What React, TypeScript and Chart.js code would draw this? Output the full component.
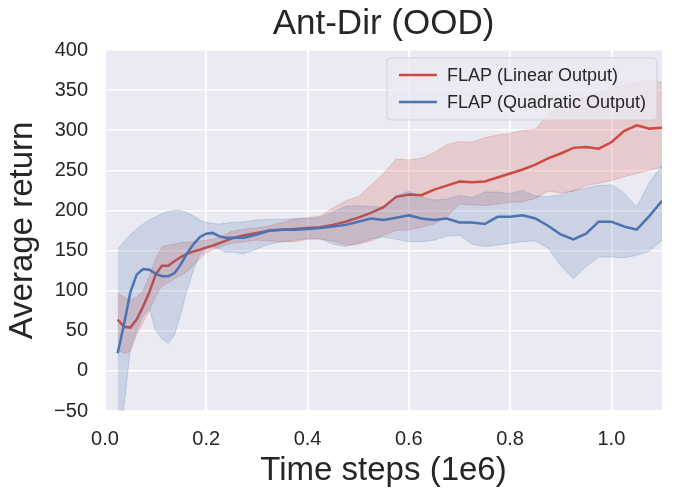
import React, { useEffect, useRef } from "react";
import { Chart, registerables } from "chart.js";

Chart.register(...registerables);

const FONT = "'Liberation Sans', Arial, sans-serif";
const TEXT = "#262626";
const RED = "#d0493f";
const BLUE = "#4c72b0";

// time steps (1e6)
const steps = [
  0.025, 0.0375, 0.05, 0.0625, 0.075, 0.0875, 0.1, 0.1125, 0.125, 0.1375,
  0.15, 0.1625, 0.175, 0.1875, 0.2, 0.2125, 0.225, 0.2375, 0.25,
  0.275, 0.3, 0.325, 0.35, 0.375, 0.4, 0.425, 0.45, 0.475, 0.5,
  0.525, 0.55, 0.575, 0.6, 0.625, 0.65, 0.675, 0.7, 0.725, 0.75,
  0.775, 0.8, 0.825, 0.85, 0.875, 0.9, 0.925, 0.95, 0.975, 1.0,
  1.025, 1.05, 1.075, 1.1,
];

// FLAP (Linear Output)
const linearMean = [
  64, 55, 54, 64, 80, 98, 120, 131, 131, 137, 142, 146, 149, 151, 154, 156, 159, 162, 165,
  169, 172, 175, 176, 177, 178, 179, 182, 186, 191, 197, 204, 217, 220, 219, 226, 231, 236,
  235, 236, 241, 246, 251, 257, 265, 271, 278, 279, 277, 285, 299, 306, 302, 303,
];
const linearHigh = [
  97, 92, 88, 92, 100, 118, 140, 155, 157, 158, 160, 160, 161, 162, 163, 164, 166, 170, 174,
  177, 178, 181, 185, 189, 191, 193, 203, 212, 217, 231, 246, 264, 263, 265, 272, 282, 286,
  285, 291, 294, 296, 300, 301, 320, 327, 336, 342, 346, 352, 356, 360, 362, 360,
];
const linearLow = [
  26, 22, 24, 45, 60, 75, 93, 106, 110, 115, 119, 124, 132, 140, 147, 151, 154, 157, 159,
  161, 163, 162, 161, 161, 164, 164, 162, 157, 158, 162, 169, 175, 176, 179, 183, 192, 208,
  207, 206, 208, 210, 211, 215, 224, 222, 224, 231, 234, 237, 242, 246, 250, 254,
];

// FLAP (Quadratic Output)
const quadMean = [
  22, 58, 98, 120, 127, 126, 121, 118, 118, 122, 133, 147, 158, 167, 171, 172, 168, 166, 166,
  166, 170, 175, 176, 176, 177, 178, 180, 182, 186, 190, 188, 191, 194, 190, 188, 190, 185,
  185, 183, 192, 192, 194, 190, 181, 170, 164, 171, 186, 186, 180, 176, 193, 212,
];
const quadHigh = [
  152, 161, 170, 177, 183, 188, 192, 196, 199, 200, 200, 197, 193, 188, 185, 184, 183, 184, 185,
  186, 188, 189, 189, 190, 190, 191, 198, 205, 206, 205, 204, 218, 224, 217, 213, 214, 219,
  216, 223, 223, 221, 225, 218, 217, 220, 225, 228, 231, 232, 222, 204, 235, 256,
];
const quadLow = [
  -120, -45, 28, 50, 68, 78, 50, 40, 34, 45, 72, 102, 126, 145, 152, 155, 152, 148, 148,
  146, 152, 158, 161, 163, 165, 165, 158, 155, 159, 164, 167, 164, 161, 161, 163, 168, 169,
  158, 155, 157, 159, 161, 162, 153, 131, 115, 130, 142, 142, 141, 144, 149, 163,
];

const legendItems = [
  { label: "FLAP (Linear Output)", color: RED },
  { label: "FLAP (Quadratic Output)", color: BLUE },
];

const pts = (vals: number[]) => steps.map((x, i) => ({ x, y: vals[i] }));

const plotBg = {
  id: "plotBg",
  beforeDraw(chart: any) {
    const { ctx, chartArea: a } = chart;
    ctx.save();
    ctx.fillStyle = "#eaeaf2";
    ctx.fillRect(a.left, a.top, a.width, a.height);
    ctx.restore();
  },
};

// legend drawn inside the plot, top right
const legendBox = {
  id: "legendBox",
  afterDatasetsDraw(chart: any) {
    const { ctx, chartArea: a } = chart;
    ctx.save();
    ctx.font = `18px ${FONT}`;
    const tw = Math.max(...legendItems.map((l) => ctx.measureText(l.label).width));
    const w = 12 + 38 + 10 + tw + 11;
    const h = 62;
    const x = a.right - 5 - w;
    const y = a.top + 8;
    ctx.beginPath();
    ctx.roundRect(x, y, w, h, 4);
    ctx.fillStyle = "rgba(234,234,242,0.8)";
    ctx.fill();
    ctx.strokeStyle = "rgba(204,204,204,0.8)";
    ctx.lineWidth = 1;
    ctx.stroke();
    legendItems.forEach((l, i) => {
      const cy = y + 17 + i * 27;
      ctx.beginPath();
      ctx.moveTo(x + 12, cy);
      ctx.lineTo(x + 50, cy);
      ctx.strokeStyle = l.color;
      ctx.lineWidth = 2.5;
      ctx.stroke();
      ctx.fillStyle = TEXT;
      ctx.textBaseline = "middle";
      ctx.fillText(l.label, x + 60, cy + 1);
    });
    ctx.restore();
  },
};

const band = (rgb: string, vals: number[], fill: any, order: number) => ({
  label: "",
  data: pts(vals),
  borderColor: `rgba(${rgb},0.22)`,
  borderWidth: 1,
  backgroundColor: `rgba(${rgb},0.2)`,
  pointRadius: 0,
  fill,
  order,
});

const AntDirChart = () => {
  const canvasRef = useRef<HTMLCanvasElement>(null);
  const chartRef = useRef<Chart | null>(null);

  useEffect(() => {
    const canvas = canvasRef.current;
    if (!canvas) return;
    if (chartRef.current) chartRef.current.destroy();

    chartRef.current = new Chart(canvas, {
      type: "line",
      data: {
        datasets: [
          band("208,73,63", linearLow, false, 3),
          band("208,73,63", linearHigh, "-1", 3),
          {
            label: "FLAP (Linear Output)",
            data: pts(linearMean),
            borderColor: RED,
            borderWidth: 2.5,
            pointRadius: 0,
            fill: false,
            order: 2,
          },
          band("76,114,176", quadLow, false, 1),
          band("76,114,176", quadHigh, "-1", 1),
          {
            label: "FLAP (Quadratic Output)",
            data: pts(quadMean),
            borderColor: BLUE,
            borderWidth: 2.5,
            pointRadius: 0,
            fill: false,
            order: 0,
          },
        ] as any,
      },
      options: {
        responsive: false,
        animation: false,
        layout: { padding: { left: 0, right: 19, top: 0, bottom: 0 } },
        plugins: {
          legend: { display: false },
          tooltip: { enabled: false },
          title: {
            display: true,
            text: "Ant-Dir (OOD)",
            fullSize: false,
            color: TEXT,
            font: { family: FONT, size: 35, weight: "normal" },
            padding: { top: 3, bottom: 5 },
          },
        },
        scales: {
          x: {
            type: "linear",
            min: 0,
            max: 1.1,
            afterFit: (s: any) => {
              s.height = 86;
            },
            border: { display: false },
            grid: { color: "#ffffff", lineWidth: 1.6, drawTicks: false },
            ticks: {
              stepSize: 0.2,
              includeBounds: false,
              padding: 16,
              color: TEXT,
              font: { family: FONT, size: 20 },
              callback: (v: any) => Number(v).toFixed(1),
            },
            title: {
              display: true,
              text: "Time steps (1e6)",
              color: TEXT,
              font: { family: FONT, size: 33 },
              padding: { top: 0, bottom: 6 },
            },
          },
          y: {
            min: -50,
            max: 400,
            afterFit: (s: any) => {
              s.width = 105;
            },
            border: { display: false },
            grid: { color: "#ffffff", lineWidth: 1.6, drawTicks: false },
            ticks: {
              stepSize: 50,
              padding: 17,
              color: TEXT,
              font: { family: FONT, size: 20 },
              callback: (v: any) => String(v).replace("-", "\u2212"),
            },
            title: {
              display: true,
              text: "Average return",
              color: TEXT,
              font: { family: FONT, size: 33 },
              padding: { top: 3, bottom: 0 },
            },
          },
        },
      } as any,
      plugins: [plotBg, legendBox],
    });

    return () => {
      chartRef.current?.destroy();
      chartRef.current = null;
    };
  }, []);

  return (
    <div style={{ position: "fixed", left: 0, top: 0, width: 681, height: 497, background: "#fff" }}>
      <canvas ref={canvasRef} width={681} height={497} style={{ display: "block" }} />
    </div>
  );
};

export default function App() {
  return <AntDirChart />;
}
